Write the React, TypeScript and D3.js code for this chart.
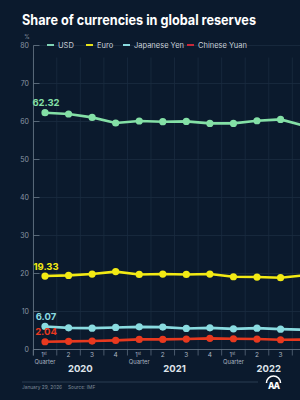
import React from "react";
import * as d3 from "d3";

const quarters = ["2020Q1", "2020Q2", "2020Q3", "2020Q4", "2021Q1", "2021Q2", "2021Q3", "2021Q4", "2022Q1", "2022Q2", "2022Q3", "2022Q4"];
const quarterLabels = ["1", "2", "3", "4", "1", "2", "3", "4", "1", "2", "3", "4"];
const years = ["2020", "2021", "2022"];
const usd = [62.32, 61.98, 61.08, 59.6, 60.13, 59.95, 60.02, 59.5, 59.5, 60.2, 60.55, 58.9];
const euro = [19.33, 19.5, 19.85, 20.5, 19.75, 19.85, 19.75, 19.85, 19.15, 19.07, 18.9, 19.5];
const yen = [6.07, 5.7, 5.62, 5.8, 5.96, 5.89, 5.54, 5.7, 5.44, 5.62, 5.36, 5.2];
const yuan = [2.04, 2.15, 2.22, 2.4, 2.66, 2.66, 2.75, 2.93, 2.83, 2.75, 2.57, 2.6];
const yTicks = [0, 10, 20, 30, 40, 50, 60, 70, 80];

const series = [
  { name: "USD", values: usd, color: "#84e0a6", legend: "#7fd3b6" },
  { name: "Euro", values: euro, color: "#f3ea14", legend: "#e6e21a" },
  { name: "Japanese Yen", values: yen, color: "#8adbe0", legend: "#8adbe0" },
  { name: "Chinese Yuan", values: yuan, color: "#e8391f", legend: "#c8283a" },
];

const W = 300;
const H = 400;
const BG = "#0b1a2d";
const FONT = "Inter, 'Noto Sans', sans-serif";

export default function App() {
  const x = d3.scalePoint<string>().domain(quarters).range([45, 304.1]);
  const y = d3.scaleLinear().domain([0, 80]).range([349.5, 45.5]);
  const step = x.step();
  const line = d3
    .line<number>()
    .x((_, i) => x(quarters[i]) as number)
    .y((d) => y(d));

  const axisX = 33.5;
  const gridLines = quarters.map((q) => (x(q) as number) + step / 2);
  gridLines.unshift((x(quarters[0]) as number) - step / 2);

  const legendItems = [
    { x: 47, text: "USD" },
    { x: 86, text: "Euro" },
    { x: 123, text: "Japanese Yen" },
    { x: 187, text: "Chinese Yuan" },
  ];

  return (
    <svg
      width={W}
      height={H}
      style={{ position: "absolute", left: 0, top: 0, display: "block" }}
      fontFamily={FONT}
    >
      <rect width={W} height={H} fill={BG} />
      <text
        x={22}
        y={25}
        fill="#ffffff"
        fontSize={14}
        fontWeight={700}
        textLength={234}
        lengthAdjust="spacingAndGlyphs"
      >
        Share of currencies in global reserves
      </text>

      {/* horizontal grid */}
      {yTicks.slice(1).map((t) => (
        <line key={"h" + t} x1={axisX} x2={W} y1={y(t)} y2={y(t)} stroke="#1b2c40" strokeWidth={0.8} />
      ))}
      {/* vertical grid, extended below the baseline as quarter separators */}
      {gridLines.map((gx, i) => (
        <g key={"v" + i}>
          <line x1={gx} x2={gx} y1={y(80) + 12} y2={y(0)} stroke="#1b2c40" strokeWidth={0.8} />
          <line x1={gx} x2={gx} y1={y(0)} y2={y(0) + 6} stroke="#5a6a7c" strokeWidth={0.8} />
        </g>
      ))}

      {/* y axis */}
      <line x1={axisX} x2={axisX} y1={y(80)} y2={y(0) + 6} stroke="#6a7888" strokeWidth={0.8} />
      <line x1={axisX} x2={W} y1={y(0)} y2={y(0)} stroke="#6a7888" strokeWidth={0.8} />
      {yTicks.map((t) => (
        <g key={"t" + t}>
          <line x1={axisX} x2={axisX + 6} y1={y(t)} y2={y(t)} stroke="#6a7888" strokeWidth={0.8} />
          <text x={29} y={y(t) + 2.5} textAnchor="end" fill="#8a96a4" fontSize={7}>
            {t}
          </text>
        </g>
      ))}
      <text x={27} y={39} textAnchor="middle" fill="#8a96a4" fontSize={5.5}>
        %
      </text>

      {/* legend */}
      {legendItems.map((it, i) => (
        <g key={"lg" + i}>
          <line x1={it.x} x2={it.x + 7} y1={45} y2={45} stroke={series[i].legend} strokeWidth={2} />
          <text x={it.x + 11} y={47.8} fill="#c9d0d8" fontSize={7.5}>
            {it.text}
          </text>
        </g>
      ))}

      {/* series */}
      {series.map((s) => (
        <g key={s.name}>
          <path d={line(s.values) || ""} fill="none" stroke={s.color} strokeWidth={2.6} />
          {s.values.map((v, i) => (
            <circle key={i} cx={x(quarters[i]) as number} cy={y(v)} r={3.6} fill={s.color} />
          ))}
          <text
            x={(x(quarters[0]) as number) + 1}
            y={y(s.values[0]) - 6.5}
            textAnchor="middle"
            fill={s.color}
            fontSize={9.5}
            fontWeight={700}
          >
            {s.values[0].toFixed(2)}
          </text>
        </g>
      ))}

      {/* quarter labels (only those inside the frame) */}
      {quarters.map((q, i) => {
        const qx = x(q) as number;
        if (qx > W - 4) return null;
        const first = quarterLabels[i] === "1";
        return (
          <g key={"q" + q}>
            {first ? (
              <>
                <text x={qx - 1} y={356.5} textAnchor="middle" fill="#aab4c0" fontSize={6}>
                  1<tspan fontSize={3.8} dy={-2}>st</tspan>
                </text>
                <text x={qx} y={363.5} textAnchor="middle" fill="#aab4c0" fontSize={5.8}>
                  Quarter
                </text>
              </>
            ) : (
              <text x={qx} y={357} textAnchor="middle" fill="#aab4c0" fontSize={6.5}>
                {quarterLabels[i]}
              </text>
            )}
          </g>
        );
      })}
      {years.map((yr, k) => {
        const x0 = x(quarters[k * 4]) as number;
        const x1 = x(quarters[k * 4 + 3]) as number;
        return (
          <text key={yr} x={(x0 + x1) / 2} y={372} textAnchor="middle" fill="#dfe4ea" fontSize={9.5} fontWeight={700}>
            {yr}
          </text>
        );
      })}

      {/* footer */}
      <line x1={22} x2={258} y1={382} y2={382} stroke="#34465a" strokeWidth={0.8} />
      <text x={22} y={389} fill="#7d8a98" fontSize={4.8}>
        January 29, 2026
      </text>
      <text x={68} y={389} fill="#7d8a98" fontSize={4.8}>
        Source: IMF
      </text>
      <g transform="translate(273.5,384)">
        <path d="M -7 -1 A 7 7 0 0 1 7 -1" fill="none" stroke="#ffffff" strokeWidth={1.6} />
        <text x={0} y={5} textAnchor="middle" fill="#ffffff" fontSize={8.5} fontWeight={800} letterSpacing={-1}>
          AA
        </text>
      </g>
    </svg>
  );
}
